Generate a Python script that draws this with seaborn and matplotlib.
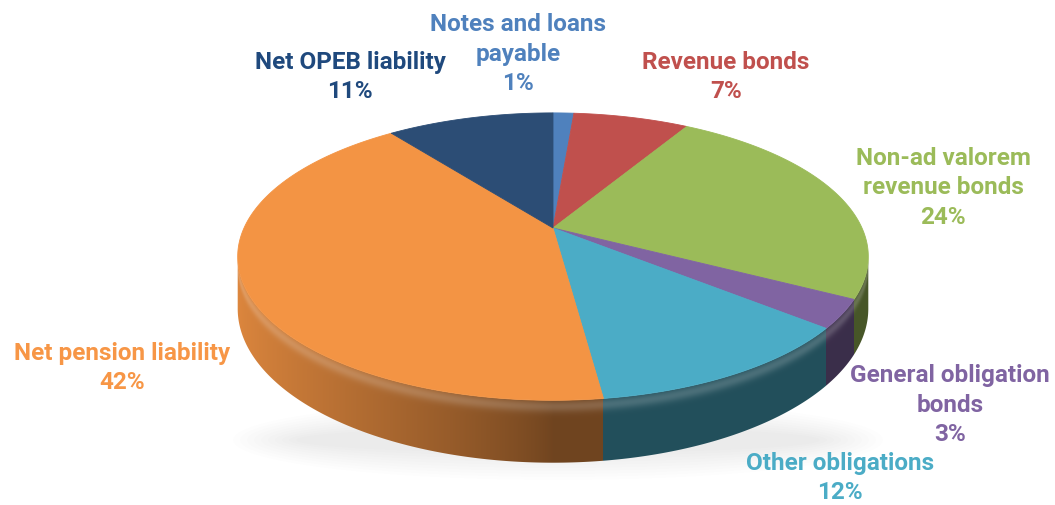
import numpy as np
import matplotlib.pyplot as plt
import matplotlib.colors as mcolors
from matplotlib.patches import Polygon, Ellipse
import seaborn as sns

# data, clockwise from 12 o'clock
labels = ["Notes and loans\npayable", "Revenue bonds", "Non-ad valorem\nrevenue bonds",
          "General obligation\nbonds", "Other obligations", "Net pension liability",
          "Net OPEB liability"]
# slice sizes as estimated from the drawing, and the rounded shares printed on it
values = [1.3, 7.2, 24.4, 3.2, 12.0, 41.9, 10.4]
pct_text = [1, 7, 24, 3, 12, 42, 11]
top_colors = ["#4f81bd", "#c0504d", "#9bbb59", "#8064a2", "#4bacc6", "#f39444", "#2c4d75"]
text_colors = ["#4f81bd", "#c0504d", "#9bbb59", "#8064a2", "#4bacc6", "#f79646", "#1f497d"]

# layout (pixel coords of label centres)
label_pos = [(518, 54), (726, 77), (943, 188), (950, 405), (840, 478), (122, 368), (350, 77)]

sns.set_theme(style="white")
plt.rcParams['font.family'] = ['Roboto', 'DejaVu Sans']

# simple perspective view of a tilted disc
CX, CY = 553, 228
SX, SY = 309, 138
K = 0.199
H = 50
W, HT = 1055, 505


def proj(theta, drop=0.0):
    X = np.sin(theta)
    Y = np.cos(theta)
    d = 1 + K * Y
    return CX + SX * X / d, CY - SY * Y / d + drop * H / d


fig = plt.figure(figsize=(10.55, 5.05), dpi=100)
ax = fig.add_axes([0, 0, 1, 1])
ax.set_xlim(0, W)
ax.set_ylim(HT, 0)
ax.axis('off')

# soft shadow under the pie
for i in range(10):
    ax.add_patch(Ellipse((CX + 5, 440), 650 - i * 14, 80 - i * 6,
                         color='#000000', alpha=0.006, lw=0))

fracs = np.array(values) / np.sum(values)
edges = np.concatenate([[0], np.cumsum(fracs)]) * 2 * np.pi

# front wall: silhouette between the two x-extremes of the rim
ta = np.arccos(-K)
tb = 2 * np.pi - ta
t = np.linspace(ta, tb, 600)
xt, yt = proj(t)
xb, yb = proj(t, 1)
wall = Polygon(list(zip(xt, yt)) + list(zip(xb[::-1], yb[::-1])), closed=True,
               fc='none', ec='none')
ax.add_patch(wall)

# colour of each pixel column of the wall, from the angle under it
cols = np.arange(W) + 0.5
theta_col = np.interp(cols, xt[::-1], t[::-1])
idx = np.clip(np.searchsorted(edges, theta_col, side='right') - 1, 0, len(values) - 1)
base = np.array([mcolors.to_rgb(c) for c in top_colors])[idx]
f = 0.46 + 0.46 * np.clip(-np.sin(theta_col), 0, None) ** 0.8
rows = np.arange(HT) + 0.5
img = base[None, :, :] * f[None, :, None] * np.ones((HT, 1, 1))
# a touch of bevel light near the top of the wall
ytop = np.interp(cols, xt[::-1], yt[::-1])
dist = rows[:, None] - ytop[None, :]
glow = 0.18 * np.exp(-((dist - 6) / 6) ** 2)
img = np.clip(img + glow[:, :, None] * (1 - img), 0, 1)
im = ax.imshow(img, extent=(0, W, HT, 0), interpolation='bilinear', aspect='auto', zorder=1)
im.set_clip_path(wall)

# top faces
for i in range(len(values)):
    tt = np.linspace(edges[i], edges[i + 1], 200)
    xs, ys = proj(tt)
    pts = [(CX, CY)] + list(zip(xs, ys))
    ax.add_patch(Polygon(pts, closed=True, fc=top_colors[i], ec=top_colors[i],
                         lw=0.6, zorder=2))

for i in range(len(values)):
    x, y = label_pos[i]
    ax.text(x, y, f"{labels[i]}\n{pct_text[i]}%", ha='center', va='center',
            color=text_colors[i], fontsize=17.5, fontweight='bold', linespacing=1.36)

fig.savefig('out.png', dpi=100)
